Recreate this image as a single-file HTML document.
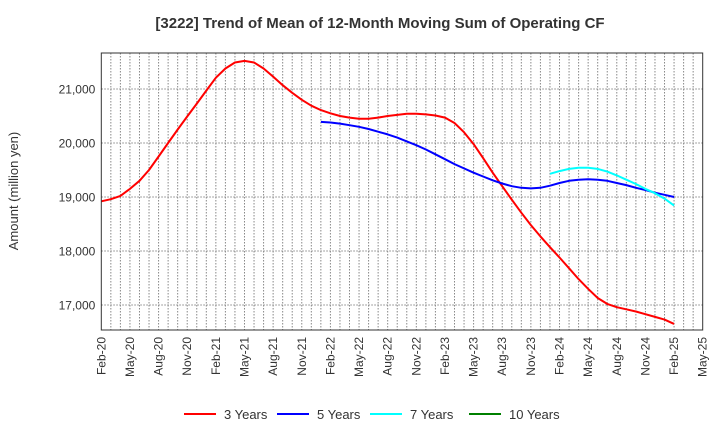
<!DOCTYPE html>
<html><head><meta charset="utf-8"><style>
body{margin:0;background:#fff;font-family:"Liberation Sans",Arial,sans-serif}
svg text{font-family:"Liberation Sans",Arial,sans-serif}
</style></head><body>
<svg id="chart" width="720" height="440" xmlns="http://www.w3.org/2000/svg">
<text x="380" y="28" text-anchor="middle" font-size="15" font-weight="bold" fill="#333">[3222]  Trend of Mean of 12-Month Moving Sum of Operating CF</text>
<text transform="translate(18,191) rotate(-90)" text-anchor="middle" font-size="13" fill="#333">Amount (million yen)</text>
<g id="grid"></g><g id="series"></g><g id="axes"></g>
<rect x="101.3" y="53" width="601.4" height="277" fill="none" stroke="#333" stroke-width="1"/>
<g id="legend"></g>
</svg>
<script>
const yTicks=[17000,18000,19000,20000,21000];
const xLabels=["Feb-20","May-20","Aug-20","Nov-20","Feb-21","May-21","Aug-21","Nov-21","Feb-22","May-22","Aug-22","Nov-22","Feb-23","May-23","Aug-23","Nov-23","Feb-24","May-24","Aug-24","Nov-24","Feb-25","May-25"];
const seriesNames=["3 Years","5 Years","7 Years","10 Years"];
const seriesColors=["#ff0000","#0000ff","#00ffff","#008000"];
const red3Start=0;
const red3=[18920,18960,19020,19150,19300,19500,19750,20000,20250,20490,20730,20970,21210,21380,21490,21520,21490,21380,21230,21070,20930,20800,20690,20610,20550,20500,20470,20450,20450,20470,20500,20520,20540,20540,20530,20510,20470,20370,20200,19980,19720,19450,19200,18950,18710,18480,18270,18070,17880,17680,17480,17300,17130,17020,16960,16920,16880,16830,16780,16730,16650];
const blue5Start=23;
const blue5=[20390,20380,20360,20330,20300,20260,20210,20160,20100,20030,19960,19880,19790,19700,19610,19530,19450,19380,19310,19250,19200,19170,19160,19170,19210,19260,19300,19320,19330,19320,19300,19260,19220,19170,19130,19080,19040,19000];
const cyan7Start=47;
const cyan7=[19430,19480,19520,19540,19540,19520,19470,19400,19320,19240,19150,19070,18970,18840];
const NS="http://www.w3.org/2000/svg";
const L=101.3,R=702.7,T=53,B=330;
const x=m=>L+m*(R-L)/63;
const y=v=>143-(v-20000)*0.054;
function mk(tag,attrs,parent){const e=document.createElementNS(NS,tag);for(const k in attrs)e.setAttribute(k,attrs[k]);parent.appendChild(e);return e;}
const grid=document.getElementById('grid'),axes=document.getElementById('axes'),ser=document.getElementById('series'),leg=document.getElementById('legend');
for(let m=1;m<63;m++){const l=mk('line',{x1:x(m),x2:x(m),y1:T,y2:B,stroke:'#888','stroke-dasharray':'1.5,1.5','stroke-width':1},grid);

}
yTicks.forEach(v=>{const l=mk('line',{x1:L,x2:R,y1:y(v),y2:y(v),stroke:'#888','stroke-dasharray':'1.5,1.5','stroke-width':1},grid);


const t=mk('text',{x:L-6,y:y(v)+4.5,'text-anchor':'end','font-size':12,fill:'#333'},axes);


t.textContent=v.toLocaleString('en-US');});
xLabels.forEach((s,i)=>{const xx=x(i*3);const t=mk('text',{transform:`translate(${xx+4},${B+7}) rotate(-90)`,'text-anchor':'end','font-size':12,fill:'#333'},axes);


t.textContent=s;});
function draw(data,start,color,name){const pts=data.map((v,i)=>x(start+i).toFixed(1)+','+y(v).toFixed(1)).join(' ');
const p=mk('polyline',{points:pts,fill:'none',stroke:color,'stroke-width':2,'stroke-linejoin':'round'},ser);

}
draw(red3,red3Start,seriesColors[0],'line-3-years');
draw(blue5,blue5Start,seriesColors[1],'line-5-years');
draw(cyan7,cyan7Start,seriesColors[2],'line-7-years');
const lx=[184,277,370,469];
seriesNames.forEach((n,i)=>{const g=mk('g',{},leg);


mk('line',{x1:lx[i],x2:lx[i]+32,y1:414,y2:414,stroke:seriesColors[i],'stroke-width':2},g);
const t=mk('text',{x:lx[i]+40,y:419,'font-size':13,fill:'#333'},g);t.textContent=n;});
</script>
</body></html>
